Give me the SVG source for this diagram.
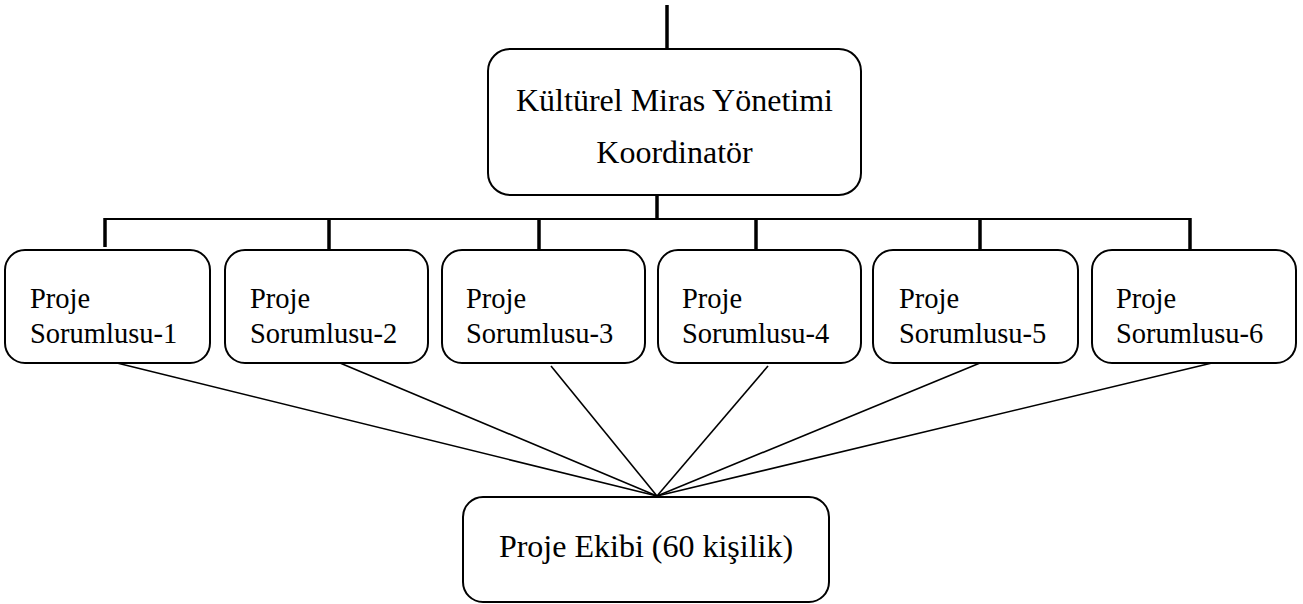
<svg xmlns="http://www.w3.org/2000/svg" width="1303" height="604" viewBox="0 0 1303 604">
  <style>
    .box { fill: #ffffff; stroke: #000000; stroke-width: 2; }
    text { font-family: 'Liberation Serif', 'Times New Roman', Tinos, 'DejaVu Serif', serif; fill: #000000; }
    .big { font-size: 32px; }
    .small { font-size: 28.5px; }
    .thick { stroke: #000000; stroke-width: 3.5; fill: none; }
    .thin { stroke: #000000; stroke-width: 2; fill: none; }
    .fan { stroke: #000000; stroke-width: 1.6; fill: none; }
  </style>
  <rect width="1303" height="604" fill="#ffffff"/>

  <g id="connectors">
    <line class="thick" x1="667" y1="5" x2="667" y2="49"/>
    <line class="thick" x1="657" y1="195" x2="657" y2="219"/>
    <line class="thin" x1="104" y1="219" x2="1191" y2="219"/>
    <line class="thick" x1="105" y1="218" x2="105" y2="247"/>
    <line class="thick" x1="329" y1="219" x2="329" y2="250"/>
    <line class="thick" x1="539" y1="219" x2="539" y2="250"/>
    <line class="thick" x1="756" y1="219" x2="756" y2="250"/>
    <line class="thick" x1="980" y1="219" x2="980" y2="250"/>
    <line class="thick" x1="1190" y1="218" x2="1190" y2="250"/>
    <line class="fan" x1="117" y1="363" x2="657" y2="496"/>
    <line class="fan" x1="340" y1="363" x2="657" y2="496"/>
    <line class="fan" x1="551" y1="366" x2="657" y2="496"/>
    <line class="fan" x1="768" y1="366" x2="657" y2="496"/>
    <line class="fan" x1="980" y1="363" x2="657" y2="496"/>
    <line class="fan" x1="1212" y1="363" x2="657" y2="496"/>
  </g>

  <g id="coordinator">
    <rect class="box" x="488" y="49" width="373" height="146" rx="22"/>
    <text class="big" x="674.5" y="111" text-anchor="middle" font-family="Liberation Serif, serif">Kültürel Miras Yönetimi</text>
    <text class="big" x="674.5" y="163" text-anchor="middle" font-family="Liberation Serif, serif">Koordinatör</text>
  </g>

  <g id="sorumlu-1">
    <rect class="box" x="5" y="250" width="205" height="113" rx="20"/>
    <text class="small" x="30" y="308">Proje</text>
    <text class="small" x="30" y="343">Sorumlusu-1</text>
  </g>
  <g id="sorumlu-2">
    <rect class="box" x="225" y="250" width="203" height="113" rx="20"/>
    <text class="small" x="250" y="308">Proje</text>
    <text class="small" x="250" y="343">Sorumlusu-2</text>
  </g>
  <g id="sorumlu-3">
    <rect class="box" x="442" y="250" width="203" height="113" rx="20"/>
    <text class="small" x="466" y="308">Proje</text>
    <text class="small" x="466" y="343">Sorumlusu-3</text>
  </g>
  <g id="sorumlu-4">
    <rect class="box" x="658" y="250" width="203" height="113" rx="20"/>
    <text class="small" x="682" y="308">Proje</text>
    <text class="small" x="682" y="343">Sorumlusu-4</text>
  </g>
  <g id="sorumlu-5">
    <rect class="box" x="873" y="250" width="205" height="113" rx="20"/>
    <text class="small" x="899" y="308">Proje</text>
    <text class="small" x="899" y="343">Sorumlusu-5</text>
  </g>
  <g id="sorumlu-6">
    <rect class="box" x="1092" y="250" width="204" height="113" rx="20"/>
    <text class="small" x="1116" y="308">Proje</text>
    <text class="small" x="1116" y="343">Sorumlusu-6</text>
  </g>

  <g id="ekip">
    <rect class="box" x="463" y="497" width="366" height="105" rx="20"/>
    <text class="big" x="646" y="557" text-anchor="middle">Proje Ekibi (60 kişilik)</text>
  </g>
</svg>
